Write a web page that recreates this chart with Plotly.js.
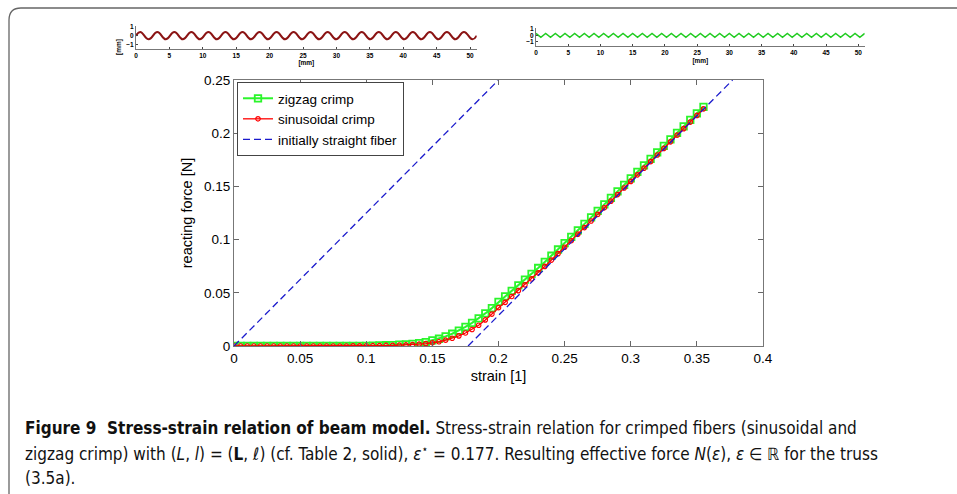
<!DOCTYPE html>
<html>
<head>
<meta charset="utf-8">
<script src="https://cdn.plot.ly/plotly-3.0.1.min.js"></script>
<style>html,body{margin:0;padding:0;background:#fff;}#chart{width:957px;height:494px;}</style>
</head>
<body>
<div id="chart"></div>
<script>
// ---- main chart data ----
const strain = [0,0.005,0.01,0.015,0.02,0.025,0.03,0.035,0.04,0.045,0.05,0.055,0.06,0.065,0.07,0.075,0.08,0.085,0.09,0.095,0.1,
  0.105,0.11,0.115,0.12,0.125,0.13,0.135,0.14,0.145,0.15,0.155,0.16,0.165,0.17,0.175,0.18,0.185,0.19,0.195,0.2,
  0.205,0.21,0.215,0.22,0.225,0.23,0.235,0.24,0.245,0.25,0.255,0.26,0.265,0.27,0.275,0.28,0.285,0.29,0.295,0.3,
  0.305,0.31,0.315,0.32,0.325,0.33,0.335,0.34,0.345,0.35,0.355];
const zigzagForce = [0,0,0,0,0,0,0,0,0,0,0,0,0,0,0,0,0,0,0,0.0001,0.0002,
  0.0004,0.0005,0.0007,0.0009,0.0012,0.0015,0.002,0.0027,0.0037,0.0053,0.0068,0.009,0.0115,0.0145,0.018,0.0218,0.026,0.0306,0.0356,0.0415,
  0.0466,0.0518,0.057,0.0623,0.0677,0.0733,0.079,0.0848,0.0907,0.0966,0.1026,0.1087,0.1148,0.1209,0.127,0.1331,0.1392,0.1453,0.1514,0.1576,
  0.1637,0.1698,0.1759,0.182,0.1881,0.1942,0.2003,0.2064,0.2125,0.2186,0.2247];
const sinusoidalForce = [0,0,0,0,0,0,0,0,0,0,0,0,0,0,0,0,0,0,0.0001,0.0001,0.0002,
  0.0003,0.0004,0.0005,0.0006,0.0008,0.001,0.0013,0.0017,0.0023,0.003,0.004,0.0055,0.0073,0.0095,0.0122,0.0155,0.0195,0.0245,0.03,0.036,
  0.041,0.0465,0.052,0.0575,0.063,0.0688,0.0748,0.0808,0.0868,0.0928,0.0989,0.1051,0.1113,0.1175,0.1237,0.1299,0.1361,0.1423,0.1485,0.1547,
  0.1609,0.1671,0.1733,0.1795,0.1857,0.1919,0.1981,0.2043,0.2105,0.2167,0.2229];
const straightStrain = [0, 0.2, null, 0.177, 0.377];
const straightForce  = [0, 0.25, null, 0, 0.25];
const seriesNames = ['zigzag crimp', 'sinusoidal crimp', 'initially straight fiber'];
const xTicks = [0,0.05,0.1,0.15,0.2,0.25,0.3,0.35,0.4];
const xTickText = ['0','0.05','0.1','0.15','0.2','0.25','0.3','0.35','0.4'];
const yTicks = [0,0.05,0.1,0.15,0.2,0.25];
const yTickText = ['0','0.05','0.1','0.15','0.2','0.25'];

// ---- inset data (fiber shapes, mm) ----
const sineX = [0,0.64,1.91,3.19,4.46,5.74,7.01,8.29,9.56,10.84,12.11,13.39,14.66,15.94,17.21,18.49,19.76,21.04,22.31,23.59,24.86,
  26.14,27.41,28.69,29.96,31.24,32.51,33.79,35.06,36.34,37.61,38.89,40.16,41.44,42.71,43.99,45.26,46.54,47.81,49.09,50.36,51];
const sineY = [0,0.4,-0.4,0.4,-0.4,0.4,-0.4,0.4,-0.4,0.4,-0.4,0.4,-0.4,0.4,-0.4,0.4,-0.4,0.4,-0.4,0.4,-0.4,
  0.4,-0.4,0.4,-0.4,0.4,-0.4,0.4,-0.4,0.4,-0.4,0.4,-0.4,0.4,-0.4,0.4,-0.4,0.4,-0.4,0.4,-0.4,0];
const zigX = [0,0.75,1.5,2.25,3,3.75,4.5,5.25,6,6.75,7.5,8.25,9,9.75,10.5,11.25,12,12.75,13.5,14.25,15,15.75,16.5,17.25,18,18.75,
  19.5,20.25,21,21.75,22.5,23.25,24,24.75,25.5,26.25,27,27.75,28.5,29.25,30,30.75,31.5,32.25,33,33.75,34.5,35.25,36,36.75,
  37.5,38.25,39,39.75,40.5,41.25,42,42.75,43.5,44.25,45,45.75,46.5,47.25,48,48.75,49.5,50.25,51];
const zigY = [0.3,-0.3,0.3,-0.3,0.3,-0.3,0.3,-0.3,0.3,-0.3,0.3,-0.3,0.3,-0.3,0.3,-0.3,0.3,-0.3,0.3,-0.3,0.3,-0.3,0.3,-0.3,0.3,-0.3,
  0.3,-0.3,0.3,-0.3,0.3,-0.3,0.3,-0.3,0.3,-0.3,0.3,-0.3,0.3,-0.3,0.3,-0.3,0.3,-0.3,0.3,-0.3,0.3,-0.3,0.3,-0.3,
  0.3,-0.3,0.3,-0.3,0.3,-0.3,0.3,-0.3,0.3,-0.3,0.3,-0.3,0.3,-0.3,0.3,-0.3,0.3,-0.3,0.3];
const insetTicks = [0,5,10,15,20,25,30,35,40,45,50];
const insetYTicks = [-1,0,1];

// ---- caption ----
const captionLines = [
  '<b>Figure 9  Stress-strain relation of beam model.</b> Stress-strain relation for crimped fibers (sinusoidal and',
  'zigzag crimp) with (<i>L</i>, <i>l</i>) = (<b>L</b>, <i>ℓ</i>) (cf. Table 2, solid), <i>ε</i><sup>⋆</sup> = 0.177. Resulting effective force <i>N</i>(<i>ε</i>), <i>ε</i> ∈ ℝ for the truss',
  '(3.5a).'
];

const W = 957, H = 494;
const px = v => v / W;
const py = v => 1 - v / H;

const traces = [
  {x: strain, y: zigzagForce, name: seriesNames[0], type: 'scatter', mode: 'lines+markers',
   line: {color: '#2bf52b', width: 2}, marker: {symbol: 'square-open', size: 6.5, color: '#2bf52b', line: {width: 1.8}}},
  {x: strain, y: sinusoidalForce, name: seriesNames[1], type: 'scatter', mode: 'lines+markers',
   line: {color: '#ff0000', width: 1.3}, marker: {symbol: 'circle-open', size: 4.5, color: '#ff0000', line: {width: 1.2}}},
  {x: straightStrain, y: straightForce, name: seriesNames[2], type: 'scatter', mode: 'lines',
   line: {color: '#1a1acc', width: 1.3, dash: '7px,4px'}},
  {x: sineX, y: sineY, xaxis: 'x2', yaxis: 'y2', type: 'scatter', mode: 'lines', showlegend: false,
   line: {color: '#8b1414', width: 2, shape: 'spline', smoothing: 1.3}},
  {x: zigX, y: zigY, xaxis: 'x3', yaxis: 'y3', type: 'scatter', mode: 'lines', showlegend: false,
   line: {color: '#22cc22', width: 1.5}}
];

const fontMain = {family: 'Liberation Sans, Arial, sans-serif', color: '#000', size: 13};
const insetFont = {family: 'Liberation Sans, Arial, sans-serif', color: '#000', size: 6.5, weight: 'bold'};

const annotations = captionLines.map((t, i) => ({
  text: t, xref: 'paper', yref: 'paper', x: px(23), y: py(428 + i * 25), xanchor: 'left', yanchor: 'middle',
  showarrow: false, align: 'left',
  font: {family: 'Liberation Sans Narrow, DejaVu Sans Condensed, Arial Narrow, sans-serif', size: 17, color: '#111'}
}));
annotations.push({text: '[mm]', xref: 'paper', yref: 'paper', x: px(113), y: py(37), textangle: -90,
  showarrow: false, font: insetFont});

const layout = {
  width: W, height: H,
  margin: {l: 0, r: 0, t: 0, b: 0},
  paper_bgcolor: '#fff', plot_bgcolor: '#fff',
  showlegend: true,
  font: fontMain,
  xaxis: {domain: [px(234), px(763)], range: [0, 0.4], tickvals: xTicks, ticktext: xTickText,
    ticks: 'inside', ticklen: 5, tickcolor: '#666', showline: true, linecolor: '#777', linewidth: 1, mirror: 'ticks',
    showgrid: false, zeroline: false, tickfont: {size: 13.5, color: '#000'},
    title: {text: 'strain [1]', font: {size: 14.5, color: '#000'}, standoff: 5}, anchor: 'y'},
  yaxis: {domain: [py(346), py(80)], range: [0, 0.25], tickvals: yTicks, ticktext: yTickText,
    ticks: 'inside', ticklen: 5, tickcolor: '#666', showline: true, linecolor: '#777', linewidth: 1, mirror: 'ticks',
    showgrid: false, zeroline: false, tickfont: {size: 13.5, color: '#000'},
    title: {text: 'reacting force [N]', font: {size: 14.5, color: '#000'}, standoff: 7}, anchor: 'x'},
  xaxis2: {domain: [px(136), px(476.7)], range: [0, 51], tickvals: insetTicks, anchor: 'y2',
    ticks: 'inside', ticklen: 2, showline: true, linecolor: '#777', linewidth: 1, showgrid: false, zeroline: false,
    tickfont: insetFont, title: {text: '[mm]', font: insetFont, standoff: 1}},
  yaxis2: {domain: [py(49), py(26)], range: [-1.45, 1.05], tickvals: insetYTicks, anchor: 'x2',
    ticks: 'inside', ticklen: 2, showline: true, linecolor: '#777', linewidth: 1, showgrid: false, zeroline: false,
    tickfont: insetFont},
  xaxis3: {domain: [px(536), px(864.7)], range: [0, 51], tickvals: insetTicks, anchor: 'y3',
    ticks: 'inside', ticklen: 2, showline: true, linecolor: '#777', linewidth: 1, showgrid: false, zeroline: false,
    tickfont: insetFont, title: {text: '[mm]', font: insetFont, standoff: 3}},
  yaxis3: {domain: [py(46), py(28)], range: [-1.65, 1.15], tickvals: insetYTicks, anchor: 'x3',
    ticks: 'inside', ticklen: 2, showline: true, linecolor: '#777', linewidth: 1, showgrid: false, zeroline: false,
    tickfont: insetFont},
  legend: {x: px(237), y: py(82), xanchor: 'left', yanchor: 'top', bgcolor: '#fff',
    bordercolor: '#444', borderwidth: 1, font: {size: 13.5, color: '#000'}, tracegroupgap: 0, itemwidth: 30},
  shapes: [
    {type: 'path', xref: 'paper', yref: 'paper',
     path: `M ${px(9)} 0 L ${px(9)} ${py(20)} Q ${px(9)} ${py(8)} ${px(21)} ${py(8)} L ${px(957)} ${py(8)}`,
     line: {color: '#666', width: 1.3}}
  ],
  annotations: annotations
};

Plotly.newPlot('chart', traces, layout, {displayModeBar: false, staticPlot: true});
</script>
</body>
</html>
